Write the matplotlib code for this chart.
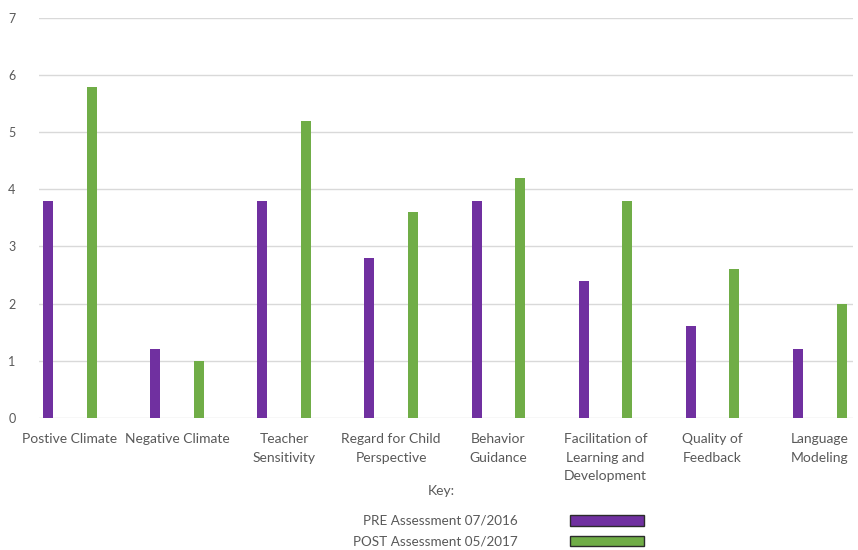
import matplotlib.pyplot as plt
from matplotlib.patches import Patch
import numpy as np

# CLASS domain scores, pre vs post
categories = ["Postive Climate", "Negative Climate", "Teacher\nSensitivity",
              "Regard for Child\nPerspective", "Behavior\nGuidance",
              "Facilitation of\nLearning and\nDevelopment", "Quality of\nFeedback",
              "Language\nModeling"]
pre_scores = [3.8, 1.2, 3.8, 2.8, 3.8, 2.4, 1.6, 1.2]
post_scores = [5.8, 1.0, 5.2, 3.6, 4.2, 3.8, 2.6, 2.0]
series_names = ["PRE Assessment 07/2016", "POST Assessment 05/2017"]
y_ticks = [0, 1, 2, 3, 4, 5, 6, 7]

purple = "#7030A0"
green = "#70AD47"
text_gray = "#595959"

plt.rcParams['font.family'] = ['Lato', 'DejaVu Sans']

fig = plt.figure(figsize=(8.58, 5.5), dpi=100)
ax = fig.add_axes([0.0455, 0.2405, 0.9487, 0.7265])

x = np.arange(len(categories))
bar_w = 0.093
offset = 0.203
ax.bar(x - offset, pre_scores, width=bar_w, color=purple, zorder=3)
ax.bar(x + offset, post_scores, width=bar_w, color=green, zorder=3)

ax.set_ylim(0, 7)
ax.set_xlim(-0.287, 7.31)
ax.set_yticks(y_ticks)
ax.grid(axis='y', color='#D9D9D9', linewidth=1, zorder=0)
for s in ax.spines.values():
    s.set_visible(False)
ax.tick_params(axis='y', length=0, pad=17, labelsize=9, labelcolor=text_gray)
ax.tick_params(axis='x', length=0, pad=11, labelsize=10, labelcolor=text_gray)
ax.set_xticks(x)
ax.set_xticklabels(categories, linespacing=1.66)

# key below the chart
fig.text(0.514, 0.107, "Key:", ha='center', va='center', fontsize=10, color=text_gray)
handles = [Patch(facecolor=purple, edgecolor='#2b2b2b', linewidth=1),
           Patch(facecolor=green, edgecolor='#2b2b2b', linewidth=1)]
fig.legend(handles, series_names, loc='upper left', bbox_to_anchor=(0.412, 0.064),
           frameon=False, markerfirst=False, fontsize=9.75, labelcolor=text_gray,
           handlelength=5.5, handleheight=0.85, handletextpad=3.8,
           labelspacing=0.65, borderpad=0, borderaxespad=0)

fig.savefig("out.png", dpi=100, facecolor='white')
